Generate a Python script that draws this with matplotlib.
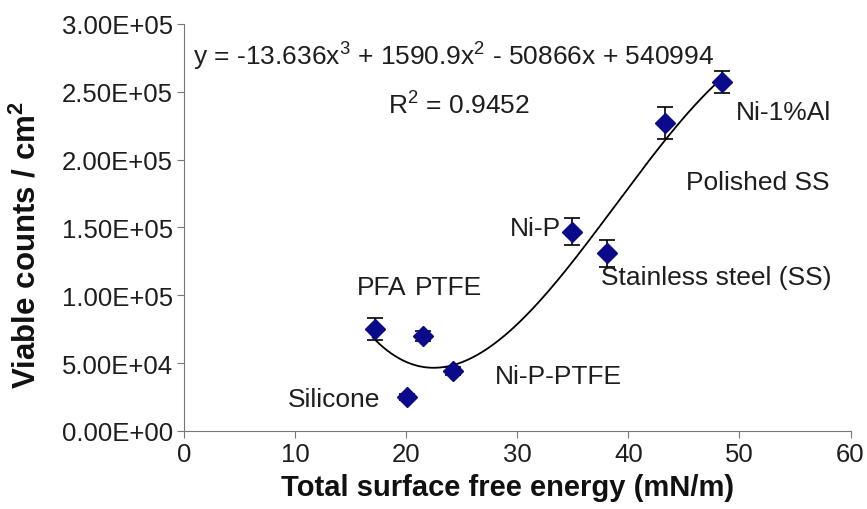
import numpy as np
import matplotlib
matplotlib.use("Agg")
import matplotlib.pyplot as plt
from matplotlib.ticker import FuncFormatter

plt.rcParams["font.family"] = ["Liberation Sans", "DejaVu Sans"]
plt.rcParams["mathtext.fontset"] = "custom"
plt.rcParams["mathtext.rm"] = "Liberation Sans"
plt.rcParams["mathtext.bf"] = "Liberation Sans:bold"

# === Data ===
materials = ["PFA", "PTFE", "Ni-P-PTFE", "Silicone", "Ni-P",
             "Stainless steel (SS)", "Polished SS", "Ni-1%Al"]
energy = [17.2, 21.5, 24.2, 20.1, 34.9, 38.1, 43.3, 48.4]
counts = [75000, 70000, 44000, 25000, 147000, 131000, 227000, 257000]
errors = [8000, 4000, 3000, 2000, 10000, 10000, 12000, 8000]

# trendline shown on the chart (cubic)
trend_coef = [-13.636, 1590.9, -50866, 540994]
trend_range = [17.0, 48.5]

# label positions (data coords, left edge / baseline)
label_pos = {
    "PFA": (15.6, 101000),
    "PTFE": (20.8, 101000),
    "Ni-P-PTFE": (28.0, 35500),
    "Silicone": (9.4, 18500),
    "Ni-P": (29.3, 144500),
    "Stainless steel (SS)": (37.5, 108400),
    "Polished SS": (45.2, 178400),
    "Ni-1%Al": (49.7, 230000),
}

TXT = "#1e1e1e"
FS = 19

fig = plt.figure(figsize=(8.67, 5.10), dpi=100)
ax = fig.add_axes([0.212, 0.153, 0.769, 0.798])

xs = np.linspace(trend_range[0], trend_range[1], 200)
ax.plot(xs, np.polyval(trend_coef, xs), color="black", lw=1.3, zorder=2)

ax.errorbar(energy, counts, yerr=errors, fmt="D", color="#0a0a8a",
            ms=10, ecolor="black", elinewidth=1.2, capsize=5.5, capthick=1.2,
            zorder=3)

for name in materials:
    x, y = label_pos[name]
    ax.text(x, y, name, fontsize=FS, va="baseline", ha="left", color=TXT)

ax.text(0.8, 270500, "y = -13.636x$^3$ + 1590.9x$^2$ - 50866x + 540994",
        fontsize=FS, va="baseline", ha="left", color=TXT)
ax.text(18.35, 235000, "R$^2$ = 0.9452", fontsize=FS, va="baseline",
        ha="left", color=TXT)

ax.set_xlim(0, 60)
ax.set_ylim(0, 300000)
ax.set_xticks(range(0, 61, 10))
ax.set_yticks(np.arange(0, 300001, 50000))


def sci_label(v, pos):
    if v == 0:
        return "0.00E+00"
    e = int(np.floor(np.log10(v)))
    return "%.2fE+%02d" % (v / 10 ** e, e)


ax.yaxis.set_major_formatter(FuncFormatter(sci_label))

for s in ["top", "right"]:
    ax.spines[s].set_visible(False)
for s in ["left", "bottom"]:
    ax.spines[s].set_color("#777777")
ax.tick_params(direction="out", length=5, color="#777777",
               labelsize=18.5, labelcolor=TXT, pad=3)

ax.set_xlabel("Total surface free energy (mN/m)", fontsize=21,
              fontweight="bold", color="#111111")
ax.set_ylabel("Viable counts / cm$^\\mathbf{2}$", fontsize=22.5,
              fontweight="bold", color="#111111")
ax.xaxis.set_label_coords(0.486, -0.103)
ax.yaxis.set_label_coords(-0.212, 0.46)

fig.savefig("out.png", dpi=100)
